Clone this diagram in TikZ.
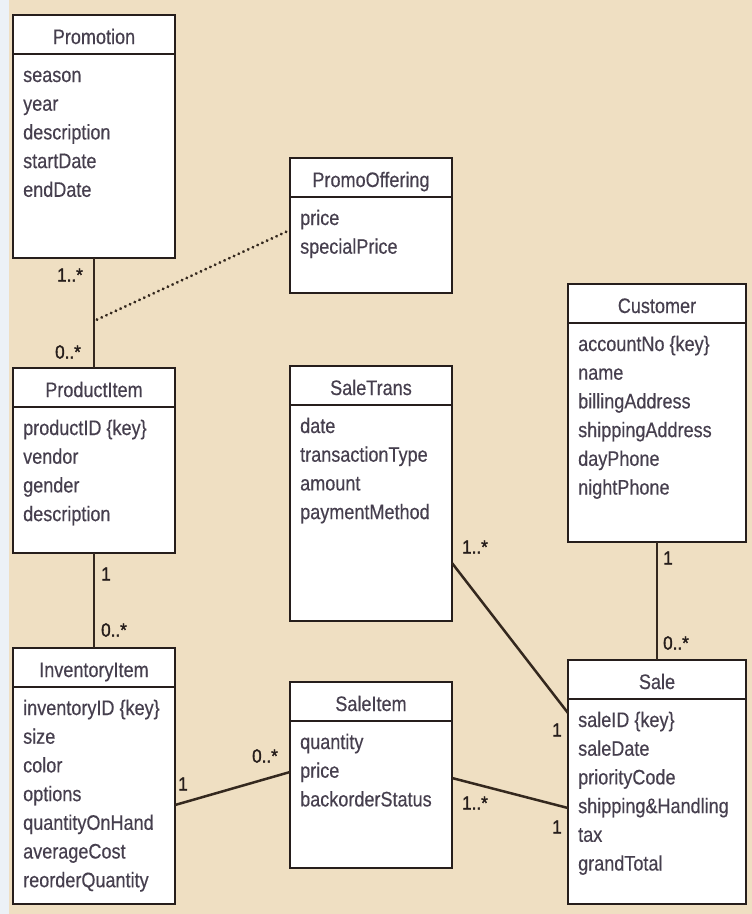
\documentclass[tikz,border=0pt]{standalone}
\usepackage{fontspec}
\setmainfont{Liberation Sans}[FakeStretch=0.86, FakeBold=0.4]
\newfontfamily\multfont{Liberation Sans}[FakeStretch=0.9, FakeBold=1.6]
\definecolor{bgc}{RGB}{239,223,194}
\definecolor{boxline}{RGB}{38,30,28}
\definecolor{txt}{RGB}{70,63,78}
\definecolor{connc}{RGB}{52,40,30}
\definecolor{edgec}{RGB}{236,241,246}
\tikzset{
  classbox/.style={draw=boxline, line width=2.8pt, fill=white, inner sep=0pt, outer sep=0pt, anchor=north west},
  boxrule/.style={draw=boxline, line width=2.8pt},
  titletext/.style={font=\fontsize{21}{24}\selectfont, text=txt, anchor=base, inner sep=0pt},
  attrtext/.style={font=\fontsize{21}{24}\selectfont, text=txt, anchor=base west, inner sep=0pt},
  multtext/.style={font=\multfont\fontsize{19}{21}\selectfont, text=boxline, inner sep=0pt},
  conn/.style={draw=connc, line width=2.5pt},
  dotconn/.style={draw=connc, line width=3.2pt, line cap=round, dash pattern=on 0.01pt off 5.2pt}
}
\newcommand{\umlclass}[7]{%
  \node[classbox, minimum width=#4pt, minimum height=#5pt] (#1) at (#2,#3) {};
  \draw[boxrule] ([yshift=-39pt]#1.north west) -- ([yshift=-39pt]#1.north east);
  \node[titletext] (#1-title) at ([yshift=-29pt]#1.north) {#6};
  \foreach \a [count=\i] in {#7} {
    \node[attrtext] (#1-a\i) at ([xshift=10pt, yshift={-67pt-(\i-1)*28.7pt}]#1.north west) {\a};
  }
}
\begin{document}
\begin{tikzpicture}[x=1pt,y=-1pt]
\useasboundingbox (0,0) rectangle (752,914);
\fill[bgc] (0,0) rectangle (752,914);
\fill[edgec] (0,0) rectangle (9,914);

\umlclass{promo}{13}{15}{162}{243}{Promotion}{season,year,description,startDate,endDate}
\umlclass{offer}{290}{158}{162}{135}{PromoOffering}{price,specialPrice}
\umlclass{cust}{568}{284}{178}{258}{Customer}{accountNo \{key\},name,billingAddress,shippingAddress,dayPhone,nightPhone}
\umlclass{prod}{13}{368}{162}{185}{ProductItem}{productID \{key\},vendor,gender,description}
\umlclass{strans}{290}{366}{162}{255}{SaleTrans}{date,transactionType,amount,paymentMethod}
\umlclass{inv}{13}{648}{162}{256}{InventoryItem}{inventoryID \{key\},size,color,options,quantityOnHand,averageCost,reorderQuantity}
\umlclass{sitem}{290}{682}{162}{186}{SaleItem}{quantity,price,backorderStatus}
\umlclass{sale}{568}{660}{178}{244}{Sale}{saleID \{key\},saleDate,priorityCode,shipping\&Handling,tax,grandTotal}

% connectors
\draw[conn] (promo.south) -- (prod.north) coordinate[pos=0.56] (dj);
\draw[dotconn] ([xshift=3pt]dj) -- ([yshift=-72pt]offer.north west);
\draw[conn] (prod.south) -- (inv.north);
\draw[conn] (cust.south) -- (sale.north);
\draw[conn] ([yshift=-197pt]strans.north east) -- ([yshift=-53pt]sale.north west);
\draw[conn] ([yshift=-157pt]inv.north east) -- ([yshift=-90pt]sitem.north west);
\draw[conn] ([yshift=-96pt]sitem.north east) -- ([yshift=-148pt]sale.north west);

% multiplicities
\node[multtext] (m1) at (70,275) {1..*};
\node[multtext] (m2) at (68,352) {0..*};
\node[multtext] (m3) at (106,574) {1};
\node[multtext] (m4) at (114,630) {0..*};
\node[multtext] (m5) at (668,558) {1};
\node[multtext] (m6) at (676,643) {0..*};
\node[multtext] (m7) at (475,547) {1..*};
\node[multtext] (m8) at (557,730) {1};
\node[multtext] (m9) at (183,784) {1};
\node[multtext] (m10) at (265,756) {0..*};
\node[multtext] (m11) at (475,803) {1..*};
\node[multtext] (m12) at (557,827) {1};
\end{tikzpicture}
\end{document}
